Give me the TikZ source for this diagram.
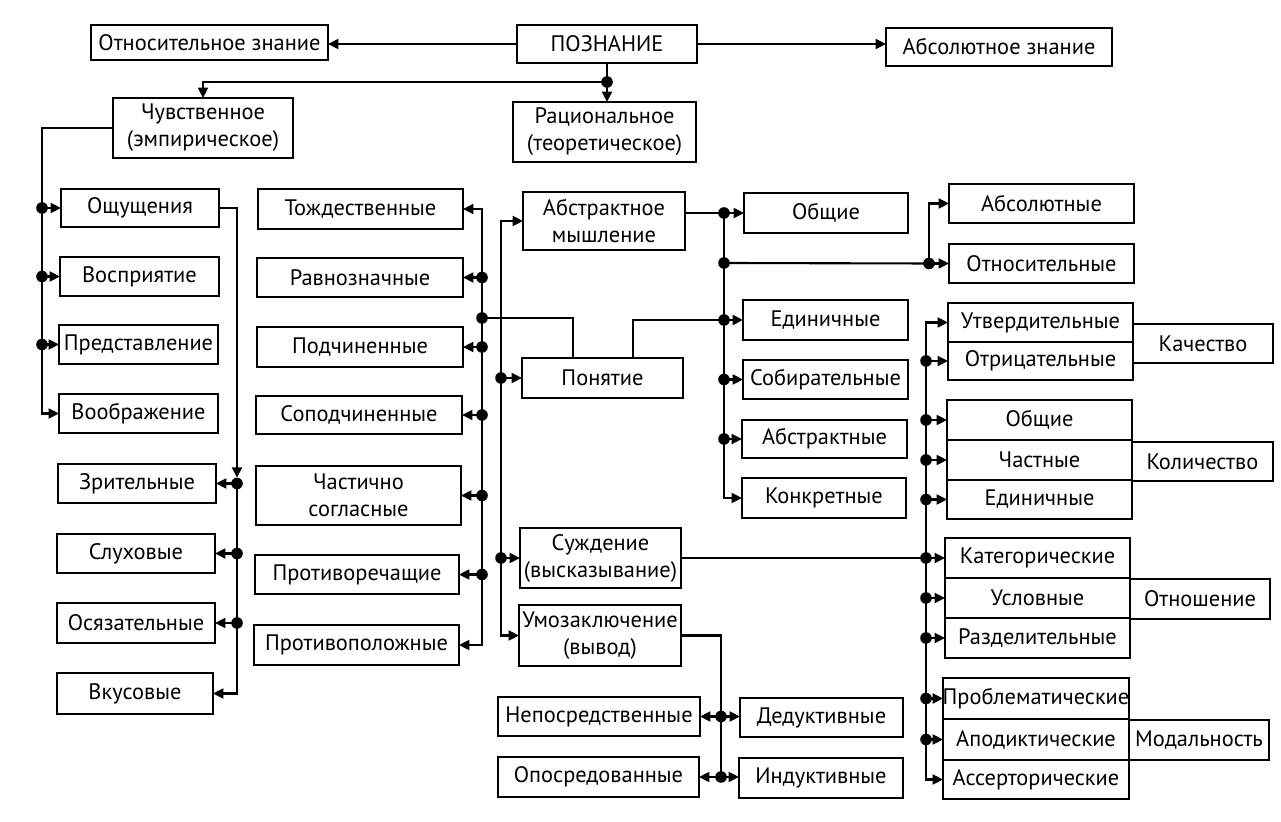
\documentclass[tikz,border=0pt]{standalone}
\usepackage{fontspec}
\setmainfont{PT Sans}
\usetikzlibrary{arrows.meta}
% box given by its corners: [options]{name}{x1}{y1}{x2}{y2}{text}
\newcommand\bx[7][]{\node[box,#1,minimum width={(#5-#3)*0.5pt},minimum height={(#6-#4)*0.5pt}] (#2) at ({(#3+#5)/2},{(#4+#6)/2}) {#7};}
% dot on a trunk line and an arrow from it to a box side: {trunk}{node}{anchor}
\newcommand\da[3]{\fill (#2.#3 -| #1) circle (2.9pt); \draw[arr] (#2.#3 -| #1) -- (#2.#3);}
\begin{document}
\begin{tikzpicture}[x=0.5pt,y=-0.5pt,
  box/.style={draw, line width=1.35pt, inner sep=1pt, outer sep=0pt, align=center,
    font=\fontsize{11.2}{13.5}\selectfont},
  con/.style={line width=1.05pt},
  arr/.style={con, -{Triangle[length=5.2pt,width=5pt]}},
  arrb/.style={con, {Triangle[length=5.2pt,width=5pt]}-{Triangle[length=5.2pt,width=5pt]}}]
\useasboundingbox (0,0) rectangle (1281,822);

% top level
\bx{otn}{91}{25}{328}{60}{Относительное знание}
\bx{pozn}{517}{25}{697}{63}{ПОЗНАНИЕ}
\bx{abs}{886}{28}{1112}{66}{Абсолютное знание}
\bx{chuv}{113}{98}{293}{158}{Чувственное\\(эмпирическое)}
\bx{rac}{513}{102}{696}{162}{Рациональное\\(теоретическое)}

% forms of sensation
\bx{osh}{61}{189}{219}{227}{Ощущения}
\bx{vos}{60}{257}{219}{296}{Восприятие}
\bx{pred}{59}{325}{218}{364}{\makebox[0pt]{Представление}}
\bx{voob}{59}{394}{218}{433}{Воображение}
\bx{zri}{58}{464}{216}{503}{Зрительные}
\bx{slu}{57}{534}{215}{573}{Слуховые}
\bx{osy}{57}{603}{215}{643}{Осязательные}
\bx{vku}{57}{673}{213}{714}{Вкусовые}

% relations between concepts
\bx{tozh}{258}{189}{463}{229}{Тождественные}
\bx{ravn}{257}{258}{463}{297}{Равнозначные}
\bx{podch}{257}{327}{463}{367}{Подчиненные}
\bx{sopod}{256}{396}{462}{434}{Соподчиненные}
\bx{chast}{256}{466}{461}{525}{Частично\\согласные}
\bx{protr}{255}{555}{459}{594}{Противоречащие}
\bx{protp}{254}{625}{459}{665}{Противоположные}

% forms of abstract thinking
\bx{abm}{523}{192}{685}{250}{Абстрактное\\мышление}
\bx{pon}{522}{358}{683}{398}{Понятие}
\bx{suzh}{520}{528}{681}{588}{Суждение\\(высказывание)}
\bx{umoz}{519}{605}{681}{666}{Умозаключение\\(вывод)}
\bx{nepo}{498}{697}{700}{736}{Непосредственные}
\bx{opos}{498}{757}{699}{797}{Опосредованные}

% kinds of concepts
\bx{obsh}{744}{193}{908}{233}{Общие}
\bx{edin}{743}{300}{908}{340}{Единичные}
\bx{sobi}{743}{360}{908}{399}{Собирательные}
\bx{abst}{742}{420}{907}{458}{Абстрактные}
\bx{konk}{742}{478}{906}{518}{Конкретные}
\bx{dedu}{740}{698}{903}{737}{Дедуктивные}
\bx{indu}{739}{758}{903}{798}{Индуктивные}

\bx{absl}{949}{184}{1134}{223}{Абсолютные}
\bx{otns}{949}{244}{1134}{283}{Относительные}

% kinds of judgements
\bx{utv}{948}{303}{1133}{342}{Утвердительные}
\bx{otr}{948}{342}{1133}{380}{Отрицательные}
\bx{kach}{1133}{324}{1273}{363}{Качество}
\bx{qobsh}{947}{400}{1132}{440}{Общие}
\bx{qchast}{947}{440}{1132}{480}{Частные}
\bx{qedin}{947}{480}{1132}{519}{Единичные}
\bx{kol}{1132}{442}{1273}{481}{Количество}
\bx{kat}{945}{538}{1130}{578}{Категорические}
\bx{usl}{945}{578}{1130}{618}{Условные}
\bx{razd}{945}{618}{1130}{658}{Разделительные}
\bx{otnosh}{1130}{579}{1270}{619}{Отношение}
\bx{probl}{943}{678}{1129}{719}{\makebox[0pt]{Проблематические}}
\bx{apod}{943}{719}{1129}{760}{Аподиктические}
\bx{asser}{943}{760}{1129}{799}{Ассерторические}
\bx{mod}{1129}{720}{1269}{760}{Модальность}

% trunk lines
\coordinate (L1) at (42,0);
\coordinate (L2) at (237,0);
\coordinate (C2) at (482,0);
\coordinate (C3) at (501,0);
\coordinate (C4) at (724,0);
\coordinate (C5) at (929,0);
\coordinate (C6) at (926,0);
\coordinate (C7) at (721,0);
\coordinate (pA) at (573,0);
\coordinate (pB) at (633,0);

% top connectors
\draw[arr] (pozn.west) -- (pozn.west -| otn.east);
\draw[arr] (pozn.east) -- (pozn.east -| abs.west);
\coordinate (j0) at (607,82);
\draw[arr] (pozn.south -| j0) -- (rac.north -| j0);
\fill (j0) circle (2.9pt);
\draw[arr] (j0) -| (chuv.north);

% sensual branch
\draw[arr] (chuv.west) -| (L1 |- voob.west) -- (voob.west);
\da{L1}{osh}{west}
\da{L1}{vos}{west}
\da{L1}{pred}{west}
\draw[arr, shorten >=2.9pt] (osh.east) -| (L2 |- zri.east);
\draw[arr] (L2 |- zri.east) |- (vku.east);
\da{L2}{zri}{east}
\da{L2}{slu}{east}
\da{L2}{osy}{east}

% relations between concepts
\draw[arrb] (tozh.east) -| (C2 |- protp.east) -- (protp.east);
\da{C2}{ravn}{east}
\da{C2}{podch}{east}
\da{C2}{sopod}{east}
\da{C2}{chast}{east}
\da{C2}{protr}{east}
\coordinate (jP) at (482,318);
\fill (jP) circle (2.9pt);
\draw[con] (jP) -| (pA |- pon.north);
\draw[con] (pB |- pon.north) |- (edin.west -| C4);

% forms of abstract thinking
\draw[arrb] (abm.west) -| (C3 |- umoz.west) -- (umoz.west);
\da{C3}{pon}{west}
\da{C3}{suzh}{west}

% kinds of concepts
\draw[con] (abm.east |- obsh.west) -- (obsh.west -| C4);
\draw[arr] (obsh.west -| C4) |- (konk.west);
\da{C4}{obsh}{west}
\da{C4}{edin}{west}
\da{C4}{sobi}{west}
\da{C4}{abst}{west}
\coordinate (jO) at (724,263);
\fill (jO) circle (2.9pt);
\draw[con] (jO) -- (C5 |- otns.west);
\da{C5}{otns}{west}
\draw[arr] (otns.west -| C5) |- (absl.west);

% kinds of judgements
\draw[arrb] (utv.west) -| (C6 |- asser.west) -- (asser.west);
\draw[con] (suzh.east) -- (suzh.east -| C6);
\da{C6}{otr}{west}
\da{C6}{qobsh}{west}
\da{C6}{qchast}{west}
\da{C6}{qedin}{west}
\da{C6}{kat}{west}
\da{C6}{usl}{west}
\da{C6}{razd}{west}
\da{C6}{probl}{west}
\da{C6}{apod}{west}

% kinds of inference
\draw[con] (umoz.east) -| (C7 |- opos.east);
\fill (nepo.east -| C7) circle (2.9pt);
\draw[arr] (nepo.east -| C7) -- (nepo.east);
\draw[arr] (nepo.east -| C7) -- (nepo.east -| dedu.west);
\fill (opos.east -| C7) circle (2.9pt);
\draw[arr] (opos.east -| C7) -- (opos.east);
\draw[arr] (opos.east -| C7) -- (opos.east -| indu.west);
\end{tikzpicture}
\end{document}
